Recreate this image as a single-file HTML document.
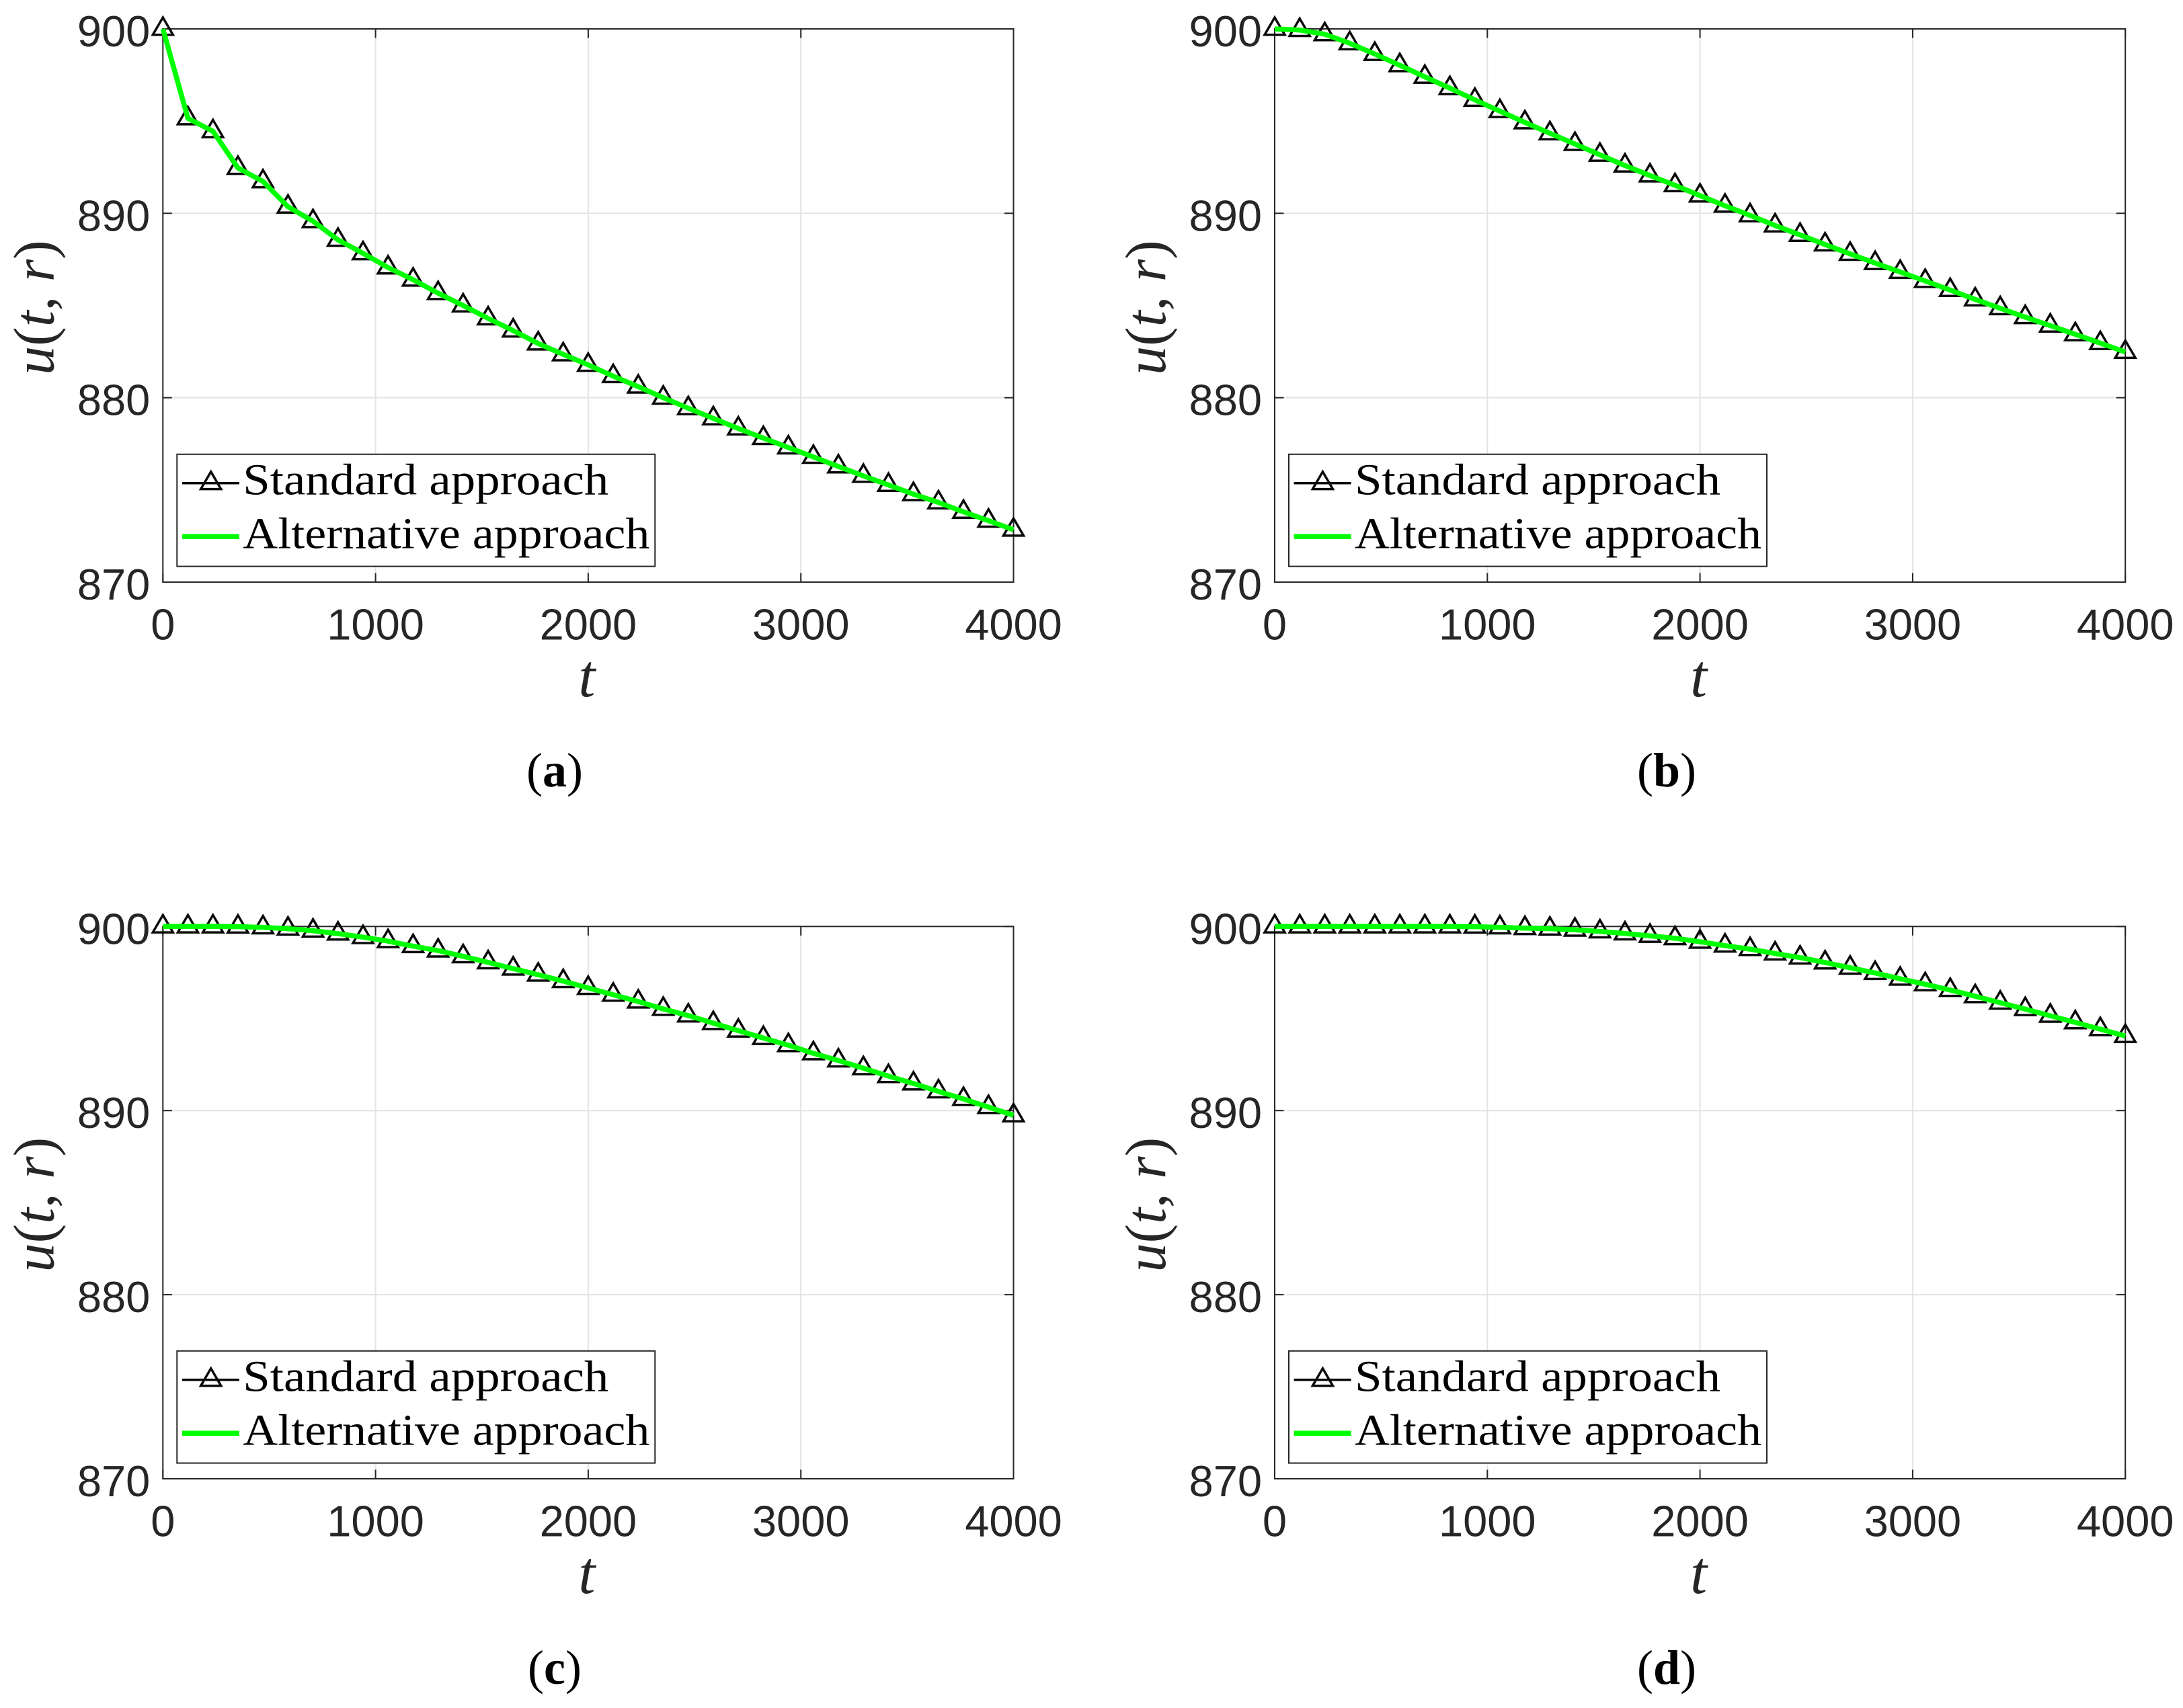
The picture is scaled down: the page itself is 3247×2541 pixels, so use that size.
<!DOCTYPE html>
<html lang="en">
<head>
<meta charset="utf-8">
<title>u(t,r) comparison of standard and alternative approach</title>
<style>
  html, body { margin: 0; padding: 0; background: #fff; width: 3247px; height: 2541px; overflow: hidden; }
  svg { display: block; }
  .tick-label { font-family: "Liberation Sans", sans-serif; font-size: 65px; fill: #262626; }
  .axis-title { font-family: "Liberation Serif", serif; font-size: 86px; fill: #262626; }
  .x-title { font-size: 90px; }
  .legend-text { font-family: "Liberation Serif", serif; font-size: 66px; fill: #000; }
  .caption { font-family: "Liberation Serif", serif; font-size: 72px; fill: #000; }
</style>
</head>
<body>
<svg id="figure" xmlns="http://www.w3.org/2000/svg" width="3247" height="2541" viewBox="0 0 3247 2541"></svg>
<script>
const tValues = [0,117.6,235.3,352.9,470.6,588.2,705.9,823.5,941.2,1058.8,1176.5,1294.1,1411.8,1529.4,1647.1,1764.7,1882.4,2000,2117.6,2235.3,2352.9,2470.6,2588.2,2705.9,2823.5,2941.2,3058.8,3176.5,3294.1,3411.8,3529.4,3647.1,3764.7,3882.4,4000];
const xTickLabels = ['0','1000','2000','3000','4000'];
const yTickLabels = ['870','880','890','900'];
const seriesNames = ['Standard approach','Alternative approach'];
const panelLetters = ['a','b','c','d'];

const standardA = [900,895.15,894.45,892.46,891.73,890.36,889.57,888.56,887.83,887.06,886.4,885.67,885.0,884.3,883.64,882.94,882.35,881.78,881.17,880.6,880.0,879.43,878.88,878.33,877.81,877.30,876.79,876.27,875.76,875.27,874.77,874.32,873.81,873.33,872.84];
const alternativeA = [900,895.15,894.45,892.46,891.73,890.36,889.57,888.56,887.83,887.06,886.4,885.67,885.0,884.3,883.64,882.94,882.35,881.78,881.17,880.6,880.0,879.43,878.88,878.33,877.81,877.30,876.79,876.27,875.76,875.27,874.77,874.32,873.81,873.33,872.84];

const standardB = [900,899.94,899.71,899.22,898.64,898.03,897.40,896.79,896.15,895.54,894.93,894.34,893.76,893.17,892.59,892.05,891.52,890.96,890.41,889.89,889.34,888.83,888.31,887.80,887.30,886.82,886.33,885.84,885.33,884.85,884.37,883.91,883.44,882.96,882.48];
const alternativeB = [900,899.94,899.71,899.22,898.64,898.03,897.40,896.79,896.15,895.54,894.93,894.34,893.76,893.17,892.59,892.05,891.52,890.96,890.41,889.89,889.34,888.83,888.31,887.80,887.30,886.82,886.33,885.84,885.33,884.85,884.37,883.91,883.44,882.96,882.48];

const standardC = [900,900,900,899.99,899.95,899.88,899.77,899.61,899.42,899.20,898.93,898.69,898.38,898.05,897.71,897.38,897.03,896.66,896.29,895.92,895.52,895.16,894.75,894.34,893.94,893.55,893.11,892.72,892.30,891.87,891.47,891.04,890.63,890.19,889.74];
const alternativeC = [900,900,900,899.99,899.95,899.88,899.77,899.61,899.42,899.20,898.93,898.69,898.38,898.05,897.71,897.38,897.03,896.66,896.29,895.92,895.52,895.16,894.75,894.34,893.94,893.55,893.11,892.72,892.30,891.87,891.47,891.04,890.63,890.19,889.74];

const standardD = [900,900,900,900,900,900,900,900,899.99,899.95,899.91,899.88,899.82,899.73,899.62,899.49,899.36,899.17,898.96,898.77,898.53,898.31,898.04,897.76,897.47,897.16,896.86,896.55,896.21,895.86,895.51,895.15,894.79,894.42,894.05];
const alternativeD = [900,900,900,900,900,900,900,900,899.99,899.95,899.91,899.88,899.82,899.73,899.62,899.49,899.36,899.17,898.96,898.77,898.53,898.31,898.04,897.76,897.47,897.16,896.86,896.55,896.21,895.86,895.51,895.15,894.79,894.42,894.05];

const standardSeries = [standardA, standardB, standardC, standardD];
const alternativeSeries = [alternativeA, alternativeB, alternativeC, alternativeD];

const SVG_NS = 'http://www.w3.org/2000/svg';
const root = document.getElementById('figure');
const PLOT_WIDTH = 1265.2;
const AXIS_COLOR = '#262626';
const GRID_COLOR = '#e3e3e3';
const GREEN = '#00ff00';
const xMin = Number(xTickLabels[0]);
const xMax = Number(xTickLabels[xTickLabels.length - 1]);
const yMin = Number(yTickLabels[0]);
const yMax = Number(yTickLabels[yTickLabels.length - 1]);

function make(tag, parent, attrs, text) {
  const el = document.createElementNS(SVG_NS, tag);
  for (const k in attrs) el.setAttribute(k, attrs[k]);
  if (text !== undefined) el.textContent = text;
  parent.appendChild(el);
  return el;
}
function xScale(t, left) { return left + (t - xMin) / (xMax - xMin) * PLOT_WIDTH; }
function yScale(v, top, bottom) { return top + (yMax - v) / (yMax - yMin) * (bottom - top); }
function trianglePath(x, y) {
  return 'M' + x + ' ' + (y - 17) + 'L' + (x + 15) + ' ' + (y + 8.8) + 'L' + (x - 15) + ' ' + (y + 8.8) + 'Z';
}

function drawPanel(index, left, top, bottom, captionX, captionY) {
  const letter = panelLetters[index];
  const right = left + PLOT_WIDTH;
  const g = make('g', root, {});
  
  

  const plotBg = make('rect', g, { x: left, y: top, width: PLOT_WIDTH, height: bottom - top, fill: '#fff' });
  
  

  xTickLabels.forEach(function (label) {
    const x = xScale(Number(label), left);
    if (Number(label) !== xMin && Number(label) !== xMax) {
      const grid = make('line', g, { x1: x, x2: x, y1: top, y2: bottom, stroke: GRID_COLOR, 'stroke-width': 2 });
      
      
    }
  });
  yTickLabels.forEach(function (label) {
    const y = yScale(Number(label), top, bottom);
    if (Number(label) !== yMin && Number(label) !== yMax) {
      const grid = make('line', g, { x1: left, x2: right, y1: y, y2: y, stroke: GRID_COLOR, 'stroke-width': 2 });
      
      
    }
  });

  const box = make('rect', g, { x: left, y: top, width: PLOT_WIDTH, height: bottom - top, fill: 'none', stroke: AXIS_COLOR, 'stroke-width': 2 });
  
  

  xTickLabels.forEach(function (label) {
    const x = xScale(Number(label), left);
    const t1 = make('line', g, { x1: x, x2: x, y1: bottom, y2: bottom - 13.5, stroke: AXIS_COLOR, 'stroke-width': 2 });
    
    
    const t2 = make('line', g, { x1: x, x2: x, y1: top, y2: top + 13.5, stroke: AXIS_COLOR, 'stroke-width': 2 });
    
    
    const txt = make('text', g, { x: x, y: bottom + 85.5, 'text-anchor': 'middle', class: 'tick-label' }, label);
    
    
  });
  yTickLabels.forEach(function (label) {
    const y = yScale(Number(label), top, bottom);
    const t1 = make('line', g, { x1: left, x2: left + 13.5, y1: y, y2: y, stroke: AXIS_COLOR, 'stroke-width': 2 });
    
    
    const t2 = make('line', g, { x1: right, x2: right - 13.5, y1: y, y2: y, stroke: AXIS_COLOR, 'stroke-width': 2 });
    
    
    const txt = make('text', g, { x: left - 19, y: y + 26, 'text-anchor': 'end', class: 'tick-label' }, label);
    
    
  });

  const standard = standardSeries[index];
  const alternative = alternativeSeries[index];
  const stdPoints = tValues.map(function (t, i) { return xScale(t, left) + ',' + yScale(standard[i], top, bottom); }).join(' ');
  const altPoints = tValues.map(function (t, i) { return xScale(t, left) + ',' + yScale(alternative[i], top, bottom); }).join(' ');

  const stdLine = make('polyline', g, { points: stdPoints, fill: 'none', stroke: '#000', 'stroke-width': 3 });
  
  

  tValues.forEach(function (t, i) {
    const marker = make('path', g, { d: trianglePath(xScale(t, left), yScale(standard[i], top, bottom)), fill: 'none', stroke: '#0a0a0a', 'stroke-width': 3.5, 'stroke-miterlimit': 10 });
    
    
  });

  const altLine = make('polyline', g, { points: altPoints, fill: 'none', stroke: GREEN, 'stroke-width': 7.5, 'stroke-linejoin': 'round' });
  
  

  // legend
  const legendX = left + 21;
  const legendY = bottom - 190.2;
  const legend = make('g', g, {});
  
  
  const legendBox = make('rect', legend, { x: legendX, y: legendY, width: 711, height: 166.8, fill: '#fff', stroke: AXIS_COLOR, 'stroke-width': 2 });
  
  
  const keyY1 = legendY + 43;
  const keyY2 = legendY + 122.5;
  const key1 = make('line', legend, { x1: legendX + 7.6, x2: legendX + 92.6, y1: keyY1, y2: keyY1, stroke: '#000', 'stroke-width': 3.5 });
  
  
  const key1m = make('path', legend, { d: trianglePath(legendX + 50.4, keyY1), fill: 'none', stroke: '#0a0a0a', 'stroke-width': 3.5, 'stroke-miterlimit': 10 });
  
  
  const key2 = make('line', legend, { x1: legendX + 7.6, x2: legendX + 92.6, y1: keyY2, y2: keyY2, stroke: GREEN, 'stroke-width': 7.5 });
  
  
  const text1 = make('text', legend, { x: legendX + 98, y: legendY + 59.5, class: 'legend-text', textLength: 544, lengthAdjust: 'spacingAndGlyphs' }, seriesNames[0]);
  
  
  const text2 = make('text', legend, { x: legendX + 98, y: legendY + 139.5, class: 'legend-text', textLength: 605, lengthAdjust: 'spacingAndGlyphs' }, seriesNames[1]);
  
  

  // axis titles
  const xTitle = make('text', g, { x: left + PLOT_WIDTH / 2 - 2, y: bottom + 170, 'text-anchor': 'middle', class: 'axis-title x-title', 'font-style': 'italic' }, 't');
  
  

  const yCx = left - 163;
  const yCy = (top + bottom) / 2 + 3;
  const yTitle = make('text', g, { x: yCx, y: yCy, 'text-anchor': 'middle', class: 'axis-title', transform: 'rotate(-90 ' + yCx + ' ' + yCy + ')' });
  
  
  make('tspan', yTitle, { 'font-style': 'italic' }, 'u');
  make('tspan', yTitle, {}, '(');
  make('tspan', yTitle, { 'font-style': 'italic' }, 't');
  make('tspan', yTitle, {}, ', ');
  make('tspan', yTitle, { 'font-style': 'italic' }, 'r');
  make('tspan', yTitle, {}, ')');

  // caption
  const caption = make('text', root, { x: captionX, y: captionY, 'text-anchor': 'middle', class: 'caption' });
  
  
  make('tspan', caption, {}, '(');
  make('tspan', caption, { 'font-weight': 'bold' }, letter);
  make('tspan', caption, {}, ')');
}

drawPanel(0, 242.3, 43, 866, 825, 1170);
drawPanel(1, 1896, 43, 866, 2479, 1170);
drawPanel(2, 242.3, 1378.3, 2200, 825, 2505);
drawPanel(3, 1896, 1378.3, 2200, 2479, 2505);
</script>
</body>
</html>
